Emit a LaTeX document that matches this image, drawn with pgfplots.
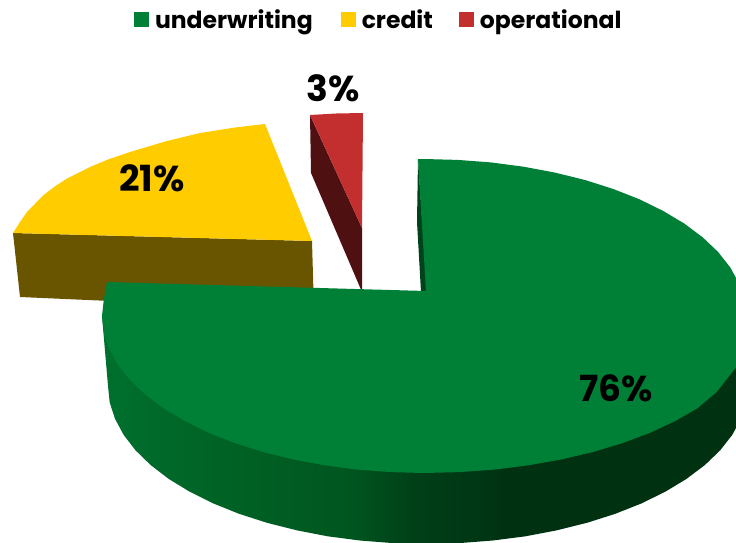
\documentclass[border=0pt]{standalone}
\usepackage{pgfplots}
\pgfplotsset{compat=1.18}
\usepackage{fontspec}
\setmainfont{Poppins}
\definecolor{uwTop}{HTML}{007F36}
\definecolor{crTop}{HTML}{FFCC00}
\definecolor{crSide}{HTML}{695400}
\definecolor{opTop}{HTML}{C32F2F}
\definecolor{opSide}{HTML}{4F1012}
\definecolor{uwInner}{HTML}{00431A}
\definecolor{rimA}{HTML}{00702F}
\definecolor{rimB}{HTML}{006426}
\definecolor{rimC}{HTML}{00561F}
\definecolor{rimD}{HTML}{004018}
\definecolor{rimE}{HTML}{003212}
% rim of the large slice: lighter on the left, darkest towards the right
\pgfdeclarehorizontalshading{uwrim}{100bp}{
  color(0bp)=(rimA);
  color(25bp)=(rimA);
  color(33bp)=(rimB);
  color(44bp)=(rimC);
  color(49bp)=(rimD);
  color(56bp)=(rimE);
  color(100bp)=(rimE)}
\tikzset{percent/.style={font=\fontsize{36}{38}\bfseries, text=black, inner sep=0pt}}
\begin{document}
\begin{tikzpicture}
\begin{axis}[
  at={(0pt,0pt)}, scale only axis, width=736pt, height=543pt,
  xmin=0, xmax=736, ymin=0, ymax=543, y dir=reverse,
  hide axis, clip=true,
  legend image code/.code={\fill[#1] (0pt,-7.5pt) rectangle (15pt,7.5pt);},
  legend columns=3,
  legend style={draw=none, fill=none, at={(axis cs:134,19.5)}, anchor=west,
    font=\fontsize{23.5}{26}\bfseries, inner sep=0pt, outer sep=0pt,
    /tikz/every odd column/.append style={column sep=4pt},
    /tikz/column 2/.style={column sep=26pt},
    /tikz/column 4/.style={column sep=24pt}},
]
\addlegendimage{fill=uwTop, draw=none}\addlegendentry{underwriting}
\addlegendimage{fill=crTop, draw=none}\addlegendentry{credit}
\addlegendimage{fill=opTop, draw=none}\addlegendentry{operational}

% credit slice
\addplot[forget plot, draw=none, fill=crSide] coordinates
  {(13,233) (312,241) (314,310) (20,297) (13,233)};
\addplot[forget plot, draw=none, fill=crTop] coordinates
  {(312,241) (265,124) (235,127.5) (200,133) (165,141.5) (130,152) (108,159.5) (90,167) (67,178.5) (54,187) (43,195.5) (27,212) (20,222) (13,233) (312,241)};

% operational slice
\addplot[forget plot, draw=none, fill=opSide] coordinates
  {(310,115) (311,173) (362,292) (362,228) (310,115)};
\addplot[forget plot, draw=none, fill=opTop] coordinates
  {(310,115) (336,113.5) (363,113) (362,228) (310,115)};

% underwriting slice: rim, inner wall, top face
\addplot[forget plot, draw=none, shade, shading=uwrim] coordinates
  {(102,316) (108,386) (109.7,402.5) (115,418.8) (123.6,434.8) (135.5,450.3) (150.6,465) (168.7,478.9) (189.7,491.7) (213.2,503.4) (239.1,513.8) (267,522.8) (296.7,530.3) (327.7,536.3) (359.9,540.5) (392.8,543.1) (426,544)
   (459.2,543.1) (492.9,540.5) (525.5,536.3) (557,530.3) (587,522.8) (615.3,513.8) (641.5,503.4) (665.3,491.7) (686.5,478.9) (704.9,465) (720.2,450.3) (732.3,434.8) (741,418.8) (746,402.5) (748,386) (750,316) (102,316)};
\addplot[forget plot, draw=none, fill=uwInner] coordinates
  {(418,159) (417,222) (421,292) (427,292) (418,159)};
\addplot[forget plot, draw=none, fill=uwTop] coordinates
  {(426,291) (418,159) (424,159) (457.6,159.9) (490.9,162.4) (523.5,166.7) (555,172.6) (585,180) (613.3,189) (639.5,199.3) (663.3,211) (684.5,223.7) (702.9,237.5) (718.2,252.1) (730.3,267.5) (739,283.4) (744.2,299.6) (746,316)
   (750,332) (746,350) (738,365) (730,375) (716.7,392) (697.4,408.3) (675.2,421) (650.2,432.7) (622.7,443) (593,452) (561.5,459.4) (528.4,465.3) (494.3,469.6) (459.3,472.1) (424,473)
   (390.4,472.1) (357.1,469.6) (324.5,465.3) (293,459.4) (263,452) (234.7,443) (208.5,432.7) (184.7,421) (163.5,408.3) (145.1,394.5) (129.8,379.9) (117.7,364.5) (109,348.6) (103.8,332.4) (102,316) (103.8,299.6) (107,282) (426,291)};

\node[percent, anchor=center] at (axis cs:616,388) {76\%};
\node[percent, anchor=center] at (axis cs:152,178) {21\%};
\node[percent, anchor=center] at (axis cs:333,88) {3\%};
\end{axis}
\pgfresetboundingbox
\useasboundingbox (0pt,0pt) rectangle (736pt,543pt);
\end{tikzpicture}
\end{document}
